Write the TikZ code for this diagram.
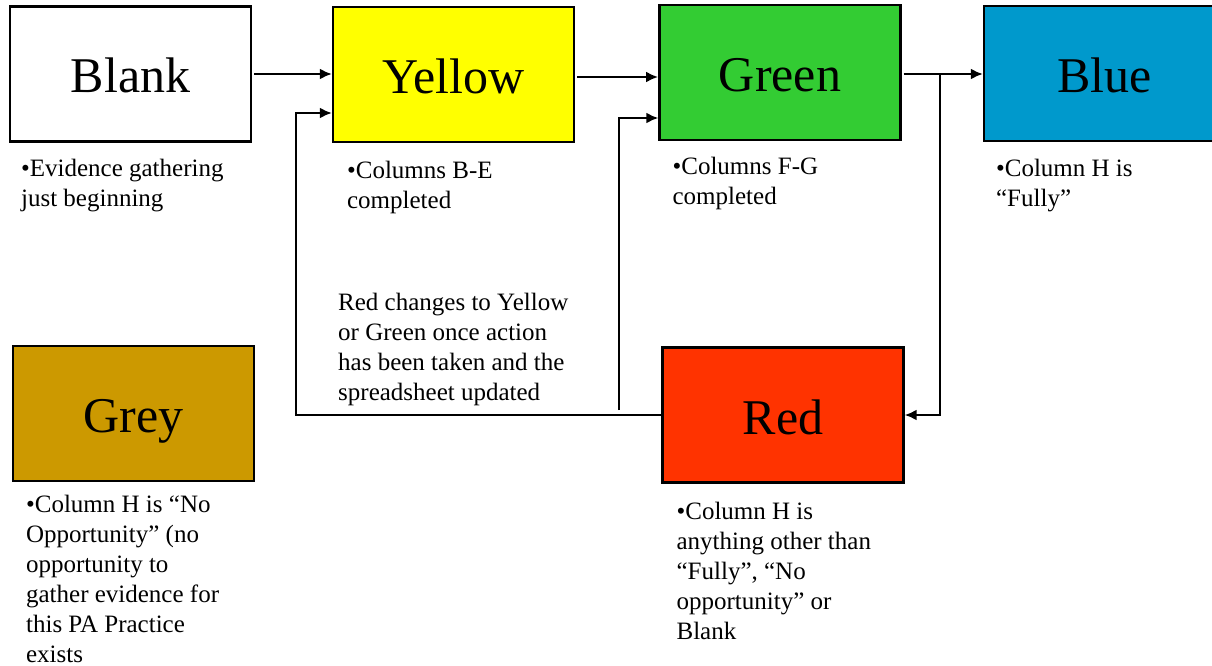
\documentclass[tikz,border=0pt]{standalone}
\usepackage{fontspec}
\setmainfont{Liberation Serif}
\usetikzlibrary{arrows.meta,positioning}
\definecolor{stYellow}{HTML}{FFFF00}
\definecolor{stGreen}{HTML}{33CC33}
\definecolor{stBlue}{HTML}{0099CC}
\definecolor{stGrey}{HTML}{CC9900}
\definecolor{stRed}{HTML}{FF3300}

\begin{document}
\begin{tikzpicture}[x=1pt,y=-1pt,
  box/.style={draw,line width=2.2pt,minimum width=241pt,minimum height=135pt,
              inner sep=0pt,text height=38pt,text depth=0pt,
              font=\fontsize{50}{56}\selectfont},
  note/.style={align=left,inner sep=0pt,font=\fontsize{25}{30}\selectfont},
  ar/.style={-{Latex[length=12pt,width=11pt]},line width=2.4pt}]
\clip (0,0) rectangle (1212,666);
\node[box,fill=white] (blank) at (130.5,74) {Blank};
\node[box,fill=stYellow] (yellow) at (453.5,74.5) {Yellow};
\node[box,fill=stGreen] (green) at (780,72.5) {Green};
\node[box,fill=stBlue] (blue) at (1104.5,73.5) {Blue};
\node[box,fill=stGrey] (grey) at (133.5,413.5) {Grey};
\node[box,fill=stRed] (red) at (783,415) {Red};
% notes under the boxes
\node[note,below right=16pt and 12pt of blank.south west] (nblank)
  {•Evidence gathering\\just beginning};
\node[note,below right=18pt and 15pt of yellow.south west] (nyellow)
  {•Columns B-E\\completed};
\node[note,below right=16pt and 14pt of green.south west] (ngreen)
  {•Columns F-G\\completed};
\node[note,below right=17pt and 13pt of blue.south west] (nblue)
  {•Column H is\\“Fully”};
\node[note,below right=12.5pt and 14pt of grey.south west] (ngrey)
  {•Column H is “No\\Opportunity” (no\\opportunity to\\gather evidence for\\this PA Practice\\exists};
\node[note,below right=18pt and 15pt of red.south west] (nred)
  {•Column H is\\anything other than\\“Fully”, “No\\opportunity” or\\Blank};
\node[note,anchor=north west] (change) at (338,293)
  {Red changes to Yellow\\or Green once action\\has been taken and the\\spreadsheet updated};
% connectors
\coordinate (tap) at (940,74);
\coordinate (back) at (296,113);
\coordinate (up) at (619,410);
\coordinate (gin) at (619,118);
\draw[ar] (blank.east) ++(2,0) -- (blank.east -| yellow.west);
\draw[ar] (yellow.east) ++(2,2.5) -- ++(81,0);
\draw[ar] (green.east) ++(2,1.5) -- (tap) -- (tap -| blue.west);
\draw[ar] (tap) |- (red.east);
\draw[ar] (red.west) -| (back) -- (back -| yellow.west);
\draw[ar] (up) -- (gin) -- (gin -| green.west);
\end{tikzpicture}
\end{document}
